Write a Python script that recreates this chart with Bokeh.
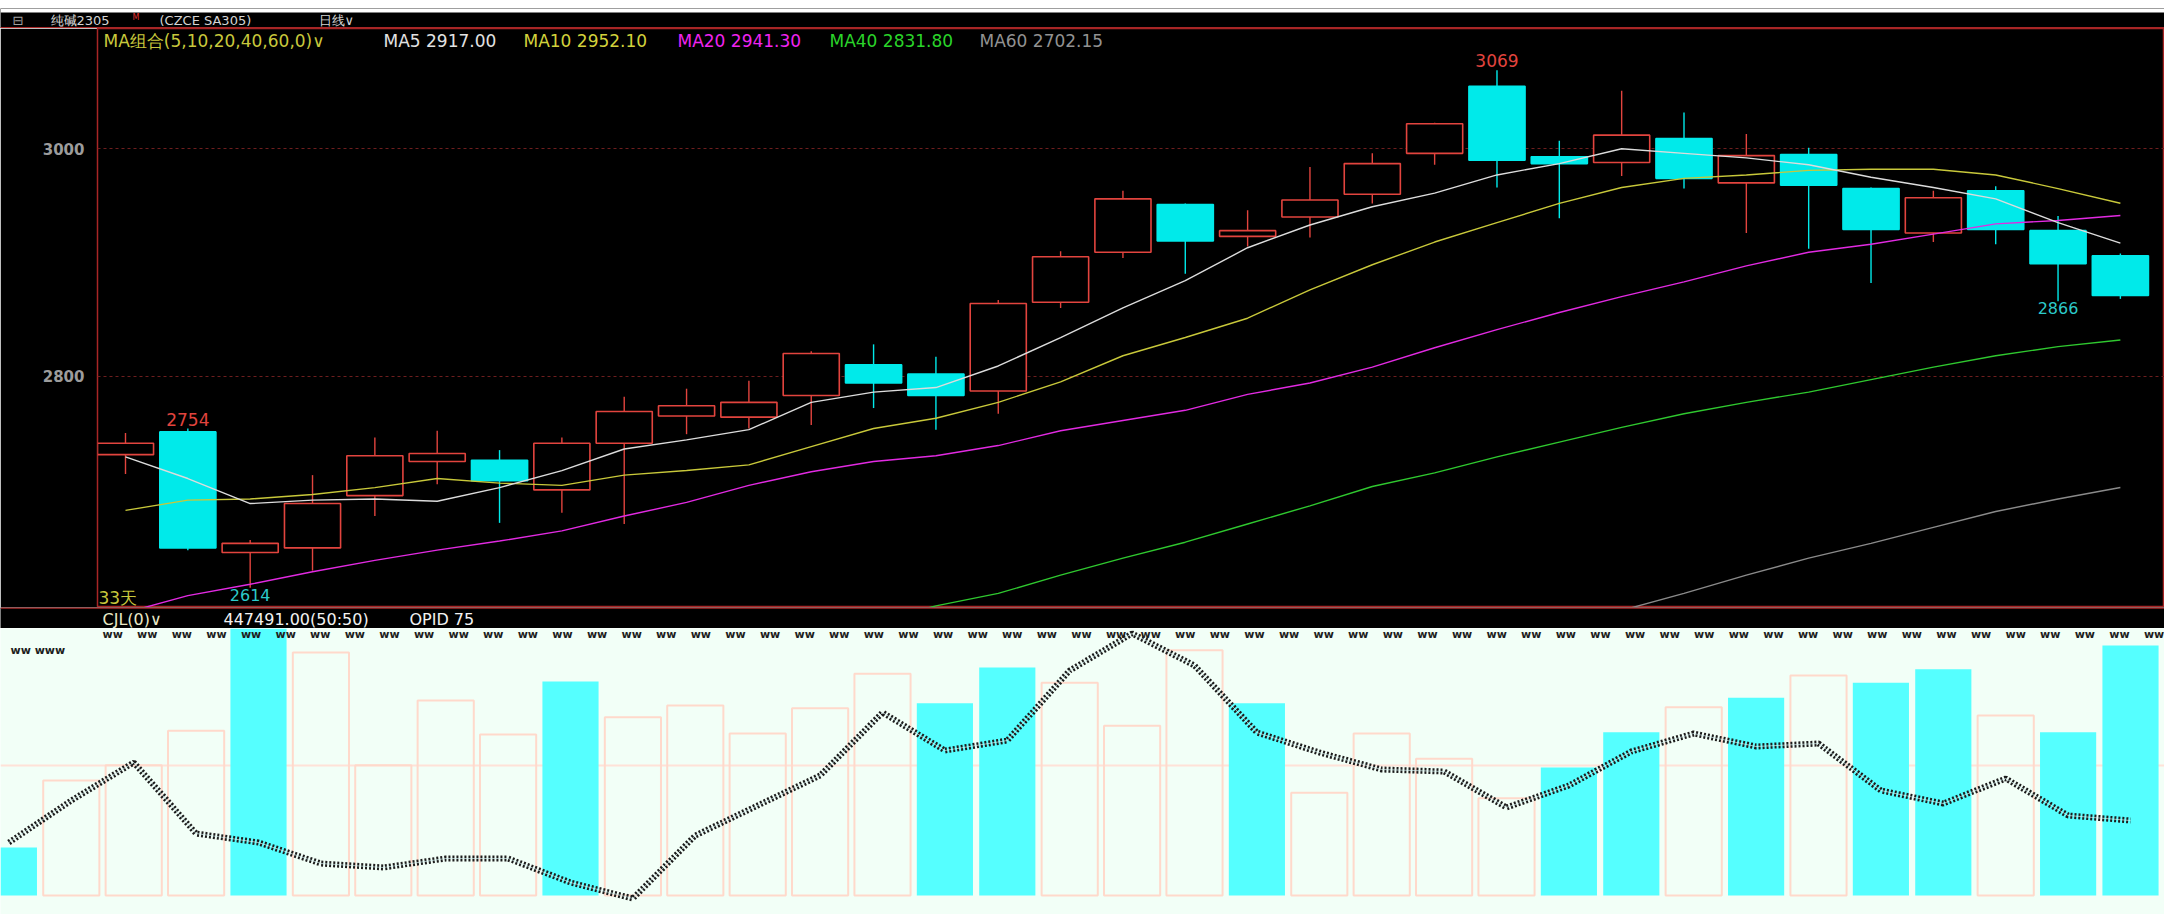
import numpy as np
from bokeh.plotting import figure
from bokeh.models import Range1d, LinearAxis, FixedTicker, Grid, Spacer, Span
from bokeh.layouts import column
from bokeh.core.properties import value
from bokeh.embed import file_html
from bokeh.resources import INLINE

nan = float("nan")

# ---------------- data ----------------
opens  = [2731, 2751, 2645, 2649, 2695, 2725, 2726, 2700, 2741, 2765, 2764, 2783, 2810, 2802, 2787, 2865, 2909,
          2951, 2923, 2940, 2960, 2996, 3055, 2993, 2988, 3009, 2970, 2995, 2965, 2926, 2963, 2928, 2906]
highs  = [2750, 2754, 2656, 2713, 2746, 2752, 2735, 2746, 2782, 2789, 2796, 2822, 2828, 2817, 2867, 2910, 2963,
          2952, 2946, 2984, 2996, 3023, 3069, 3007, 3051, 3032, 3013, 3001, 2966, 2963, 2967, 2941, 2908]
lows   = [2714, 2647, 2614, 2629, 2677, 2705, 2671, 2680, 2670, 2749, 2754, 2757, 2772, 2753, 2767, 2860, 2904,
          2890, 2914, 2922, 2952, 2986, 2966, 2939, 2976, 2965, 2926, 2912, 2882, 2918, 2916, 2866, 2868]
closes = [2741, 2649, 2653, 2688, 2730, 2732, 2708, 2741, 2769, 2774, 2777, 2820, 2794, 2783, 2864, 2905, 2956,
          2919, 2928, 2955, 2987, 3022, 2990, 2987, 3012, 2974, 2994, 2968, 2929, 2957, 2929, 2899, 2871]

ma5  = [2729, 2710, 2688, 2691, 2692, 2690, 2702, 2717, 2736, 2744, 2753, 2777, 2786, 2790, 2809, 2834, 2860,
        2884, 2913, 2933, 2949, 2961, 2977, 2987, 3000, 2996, 2992, 2986, 2975, 2966, 2956, 2935, 2917.00]
ma10 = [2682, 2691, 2692, 2696, 2702, 2710, 2706, 2704, 2713, 2717, 2722, 2738, 2754, 2763, 2777, 2795, 2818,
        2834, 2851, 2876, 2898, 2918, 2935, 2952, 2966, 2974, 2977, 2981, 2982, 2982, 2977, 2965, 2952.10]
ma20 = [2592, 2607, 2617, 2628, 2638, 2647, 2655, 2664, 2677, 2689, 2704, 2716, 2725, 2730, 2739, 2752, 2761,
        2770, 2784, 2794, 2808, 2825, 2841, 2856, 2870, 2883, 2897, 2909, 2916, 2925, 2934, 2937, 2941.30]
ma40 = [nan] * 12 + [2584, 2598, 2609, 2625, 2640, 2654, 2670, 2686, 2703, 2715, 2729, 2742, 2755, 2767,
                     2777, 2786, 2797, 2808, 2818, 2826, 2831.80]
ma60 = [nan] * 24 + [2594, 2609, 2625, 2640, 2653, 2667, 2681, 2692, 2702.15]

price_ticks = [2800, 3000]
extreme_idx = [1, 22]      # labelled highs
trough_idx = [2, 31]       # labelled lows

# lower panel (its bars start three sessions earlier in the picture)
vol_idx = list(range(-3, 32))
volume = [86000, 206000, 233000, 295000, 520000, 435000, 233000, 349000, 288000, 383000, 319000, 340000,
          290000, 335000, 397000, 344000, 408000, 381000, 304000, 439000, 344000, 184000, 290000, 245000,
          174000, 229000, 292000, 337000, 354000, 394000, 381000, 405000, 322000, 292000, 447491]
open_interest = [735000, 777000, 815000, 744000, 735000, 714000, 710000, 719000, 719000, 695000, 679000,
                 742000, 772000, 802000, 865000, 827000, 837000, 907000, 944000, 912000, 845000, 825000,
                 808000, 806000, 770000, 792000, 826000, 844000, 831000, 834000, 787000, 774000, 799000,
                 762000, 757000]
pre_down = [True, False, False]   # direction of the three earlier sessions

# ---------------- layout constants (page pixels) ----------------
W = 2164
X0, DX = 125.0, 62.34          # candle 0 centre, candle spacing
VX0, VDX = 195.6, 62.4         # lower panel bar 0 centre, spacing
Y3000, PPX = 148.3, 1.137      # y of 3000, px per price unit
VOL_PX, VOL_BASE = 1790.0, 895.0
OI_REF, OI_Y = 752000.0, 825.0

def xi(px):
    return (px - X0) / DX

def yp(py):
    return 3000 - (py - Y3000) / PPX

def vxi(px):
    return (px - VX0) / VDX

def vv(py):
    return (VOL_BASE - py) * VOL_PX

def ov(py):
    return OI_REF + (OI_Y - py) * 1000.0

RED = "#E2443E"
CYAN = "#00EAEA"
FRAME_RED = "#A82626"
LATN = "DejaVu Sans"
LAT = value(LATN)

def base_fig(h, xr, yr, bg, **kw):
    p = figure(width=W, height=h, x_range=xr, y_range=yr, output_backend="svg", toolbar_location=None,
               x_axis_location=None, y_axis_location=None, background_fill_color=bg,
               border_fill_color=bg, outline_line_color=None, frame_align=False, **kw)
    p.grid.visible = False
    return p

# ---------------- header strip (page y 8..28, top 4px white like the picture) ----------------
pH = base_fig(20, Range1d(0, W), Range1d(28, 8), "black", min_border=0)
pH.quad(left=[0], right=[W], top=[8], bottom=[12], fill_color="white", line_color=None)
header = [("⊟", "#A0A0A0", 12, "13px", 19.5), ("纯碱2305", "#D4D4D4", 50, "13px", 19.5),
          ("M", "#E03030", 132, "8px", 16.5), ("(CZCE  SA305)", "#D4D4D4", 159, "13px", 19.5),
          ("日线∨", "#D4D4D4", 318, "13px", 19.5)]
for txt, col, px, fs, py in header:
    pH.text(x=[px], y=[py], text=[txt], text_color=col, text_font=LAT,
            text_font_size=fs, text_baseline="middle")
pH.add_layout(Span(location=27.3, dimension="width", line_color=FRAME_RED, line_width=1.5))

# ---------------- main price panel (page y 28..607) ----------------
pA = base_fig(579, Range1d(xi(97), xi(W)), Range1d(yp(607), yp(28)), "black",
              min_border_left=97, min_border_right=0, min_border_top=0, min_border_bottom=0)
pA.outline_line_color = FRAME_RED
pA.outline_line_width = 1.5

left = LinearAxis(ticker=FixedTicker(ticks=price_ticks), axis_line_color=None,
                  major_tick_line_color=None, minor_tick_line_color=None,
                  major_label_text_color="#9C9C9C", major_label_text_font_style="bold",
                  major_label_text_font_size="15px", major_label_text_font=LATN,
                  major_label_standoff=7)
pA.add_layout(left, "left")
pA.add_layout(Grid(dimension=1, ticker=FixedTicker(ticks=price_ticks), grid_line_color="#6E1E1E",
                   grid_line_dash="3 3", grid_line_width=1))

idx = np.arange(len(opens))
o = np.array(opens, float); c = np.array(closes, float)
up = c >= o
wick_col = [RED if u else CYAN for u in up]
pA.segment(x0=idx, y0=lows, x1=idx, y1=highs, line_color=wick_col, line_width=1.4)
pA.vbar(x=idx, width=0.9, top=np.maximum(o, c), bottom=np.minimum(o, c),
        fill_color=["black" if u else CYAN for u in up], line_color=wick_col, line_width=1.6)

ma_series = [(ma60, "#8A8A8A"), (ma40, "#2FC82F"), (ma20, "#E22AE2"), (ma10, "#C8C83A"), (ma5, "#DCDCDC")]
for ser, col in ma_series:
    pA.line(idx, ser, line_color=col, line_width=1.4)

pA.text(x=extreme_idx, y=[highs[i] for i in extreme_idx], text=[str(highs[i]) for i in extreme_idx],
        text_color=RED, text_font=LAT, text_font_size="17px", text_align="center",
        text_baseline="bottom", y_offset=-3)
pA.text(x=trough_idx, y=[lows[i] for i in trough_idx], text=[str(lows[i]) for i in trough_idx],
        text_color="#2CCACA", text_font=LAT, text_font_size="16px", text_align="center",
        text_baseline="top", y_offset=1)

pA.text(x=[xi(98)], y=[yp(597)], text=["33天"], text_color="#C8C83C", text_font=LAT,
        text_font_size="17px", text_baseline="middle")

legend_items = [("MA组合(5,10,20,40,60,0)∨", "#C8C83C", 103),
                ("MA5 %.2f" % ma5[-1], "#E2E2E2", 383),
                ("MA10 %.2f" % ma10[-1], "#D2D23C", 523),
                ("MA20 %.2f" % ma20[-1], "#F024F0", 677),
                ("MA40 %.2f" % ma40[-1], "#2AD42A", 829),
                ("MA60 %.2f" % ma60[-1], "#929292", 979)]
pA.text(x=[xi(it[2]) for it in legend_items], y=[yp(40)] * len(legend_items),
        text=[it[0] for it in legend_items], text_color=[it[1] for it in legend_items],
        text_font=LAT, text_font_size="17px", text_baseline="middle")

# ---------------- strip under the price panel (page y 607..628) ----------------
pS = base_fig(21, Range1d(0, W), Range1d(628, 607), "black", min_border=0)
strip = [("CJL(0)∨", "#EAEAC8", 102), ("%.2f(50:50)" % volume[-1], "#F2F2F2", 223), ("OPID 75", "#F2F2F2", 409)]
pS.text(x=[s[2] for s in strip], y=[618.5] * len(strip), text=[s[0] for s in strip],
        text_color=[s[1] for s in strip], text_font=LAT, text_font_size="16px", text_baseline="middle")
pS.add_layout(Span(location=607.5, dimension="width", line_color=FRAME_RED, line_width=1.5))

# ---------------- lower panel (volume + open interest, page y 628..914) ----------------
BG = "#F2FFF7"
pB = base_fig(286, Range1d(vxi(0), vxi(W)), Range1d(vv(914), vv(628)), BG, min_border=0)
pB.extra_y_ranges = {"oi": Range1d(ov(914), ov(628))}
pB.add_layout(Grid(dimension=1, ticker=FixedTicker(ticks=[233000]), grid_line_color="#FFE2D8",
                   grid_line_width=2))

down_flags = []
for k, i in enumerate(vol_idx):
    down_flags.append(pre_down[k] if i < 0 else bool(closes[i] < opens[i]))
vx_dn = [i for i, d in zip(vol_idx, down_flags) if d]
vv_dn = [v for v, d in zip(volume, down_flags) if d]
vx_up = [i for i, d in zip(vol_idx, down_flags) if not d]
vv_up = [v for v, d in zip(volume, down_flags) if not d]
pB.vbar(x=vx_up, top=vv_up, bottom=0, width=0.9, fill_color=None, line_color="#FFD9CB", line_width=2)
pB.vbar(x=vx_dn, top=vv_dn, bottom=0, width=0.9, fill_color="#55FFFF", line_color=None)

pB.line(vol_idx, open_interest, y_range_name="oi", line_color="#1C1C1C", line_width=6, line_dash="2 2")
pB.line(vol_idx, open_interest, y_range_name="oi", line_color="#D8F4F4", line_width=1, line_alpha=0.7)

# rendering artefact row of glyphs along the top of the panel
ww_x = np.arange(102, W - 20, 34.6)
pB.text(x=[vxi(v) for v in ww_x], y=[vv(634)] * len(ww_x), text=["ww"] * len(ww_x),
        text_color="#1E1E1E", text_font=LAT, text_font_size="11px", text_font_style="bold",
        text_baseline="middle", text_align="left")
pB.text(x=[vxi(10)], y=[vv(650)], text=["ww  www"], text_color="#1E1E1E", text_font=LAT,
        text_font_size="11px", text_font_style="bold", text_baseline="middle")

layout = column(Spacer(width=W, height=8), pH, pA, pS, pB)
open("out.html", "w").write(file_html(layout, INLINE))
